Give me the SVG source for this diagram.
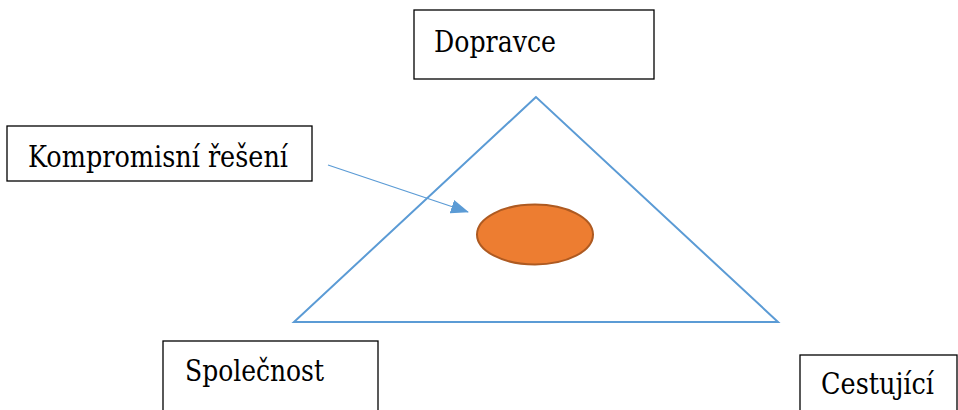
<svg xmlns="http://www.w3.org/2000/svg" width="958" height="410" viewBox="0 0 958 410">
<style>
.box{fill:#fff;stroke:#000;stroke-width:1.3}
.lbl{font-family:'DejaVu Serif','Liberation Serif',serif;font-size:29px;fill:#000}
.link{stroke:#5B9BD5;stroke-width:1.3;fill:none}
</style>
<defs>
<marker id="ahb" markerWidth="18" markerHeight="14" refX="17" refY="7" orient="auto" markerUnits="userSpaceOnUse" viewBox="0 0 18 14">
<path d="M0,0 L18,7 L0,14 Z" fill="#5B9BD5"/>
</marker>
</defs>
<g id="triangle">
<polygon points="536,97 294,322 778,322" fill="none" stroke="#5B9BD5" stroke-width="2"/>
</g>
<g id="compromise">
<ellipse cx="535" cy="234.5" rx="58" ry="30" fill="#ED7D31" stroke="#AE5A21" stroke-width="2"/>
</g>
<g id="dopravce">
<rect class="box" x="414" y="10" width="240" height="69"/>
<text class="lbl" x="434" y="52" textLength="122" lengthAdjust="spacingAndGlyphs">Dopravce</text>
</g>
<g id="kompromisni">
<rect class="box" x="7" y="126" width="305" height="55"/>
<text class="lbl" x="28" y="167" textLength="260" lengthAdjust="spacingAndGlyphs">Kompromisní řešení</text>
</g>
<g id="spolecnost">
<rect class="box" x="163" y="341" width="215" height="80"/>
<text class="lbl" x="185" y="381" textLength="139" lengthAdjust="spacingAndGlyphs">Společnost</text>
</g>
<g id="cestujici">
<rect class="box" x="800" y="355" width="157" height="70"/>
<text class="lbl" x="821" y="394" textLength="113" lengthAdjust="spacingAndGlyphs">Cestující</text>
</g>
<g id="connectors">
<line class="link" x1="328" y1="165" x2="468" y2="212" marker-end="url(#ahb)"/>
</g>
</svg>
